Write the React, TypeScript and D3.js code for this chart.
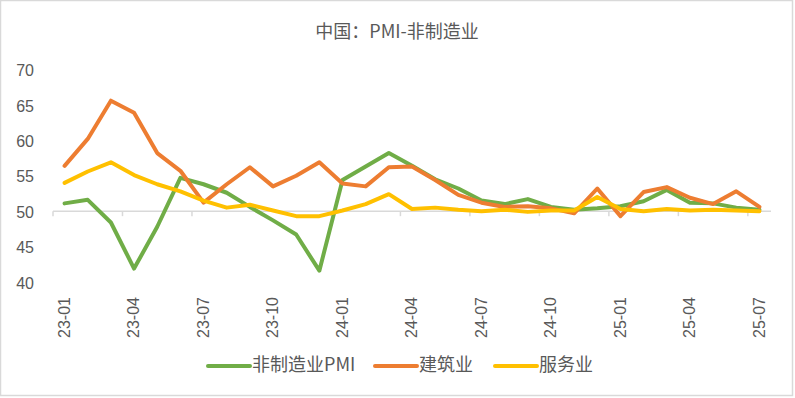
import React from "react";
import * as d3 from "d3";

const months = [
  "23-01","23-02","23-03","23-04","23-05","23-06","23-07","23-08","23-09","23-10","23-11","23-12",
  "24-01","24-02","24-03","24-04","24-05","24-06","24-07","24-08","24-09","24-10","24-11","24-12",
  "25-01","25-02","25-03","25-04","25-05","25-06","25-07",
];
const nonMfgPMI = [
  51.1, 51.6, 48.4, 41.9, 47.8, 54.7, 53.8, 52.6, 50.6, 48.7, 46.7, 41.6,
  54.4, 56.3, 58.2, 56.4, 54.5, 53.2, 51.5, 51.0, 51.7, 50.6, 50.2, 50.4,
  50.7, 51.4, 53.0, 51.2, 51.1, 50.5, 50.2,
];
const construction = [
  56.4, 60.2, 65.6, 63.9, 58.2, 55.7, 51.2, 53.8, 56.2, 53.5, 55.0, 56.9,
  53.9, 53.5, 56.2, 56.3, 54.4, 52.3, 51.2, 50.6, 50.7, 50.4, 49.7, 53.2,
  49.3, 52.7, 53.4, 51.9, 51.0, 52.8, 50.6,
];
const services = [
  54.0, 55.6, 56.9, 55.1, 53.8, 52.8, 51.5, 50.5, 50.9, 50.1, 49.3, 49.3,
  50.1, 51.0, 52.4, 50.3, 50.5, 50.2, 50.0, 50.2, 49.9, 50.1, 50.1, 52.0,
  50.3, 50.0, 50.3, 50.1, 50.2, 50.1, 50.0,
];
const yTicks = [40, 45, 50, 55, 60, 65, 70];
const seriesNames = ["非制造业PMI", "建筑业", "服务业"];
const colors = ["#70ad47", "#ed7d31", "#ffc000"];
const title = "中国：PMI-非制造业";

const W = 795, H = 398;
const latin = "'Liberation Sans', Arial, sans-serif";
const cjk = "'Noto Sans CJK SC', 'Liberation Sans', sans-serif";
const textColor = "#595959";

export default function App() {
  const x = d3.scaleBand<string>().domain(months).range([53, 771]).padding(0);
  const y = d3.scaleLinear().domain([40, 70]).range([282, 69.5]);
  const cx = (i: number) => (x(months[i]) as number) + x.bandwidth() / 2;
  const line = d3
    .line<number>()
    .x((_, i) => cx(i))
    .y((d) => y(d));
  const allSeries = [nonMfgPMI, construction, services];
  const axisY = y(50);
  const tickIdx = months.map((_, i) => i).filter((i) => i % 3 === 0);
  const boundaries = d3.range(0, months.length + 1, 3).map((i) => 53 + i * x.bandwidth());

  const legendX = [208, 375, 495];

  return (
    <div style={{ position: "fixed", left: 0, top: 0 }}>
      <svg width={W} height={H} style={{ display: "block", background: "#fff" }}>
        <rect x={0.5} y={0.5} width={792} height={395} fill="#fff" stroke="#d9d9d9" strokeWidth={1.5} />
        <text x={397} y={38} textAnchor="middle" fontFamily={cjk} fontSize={18} fill={textColor}>
          {title}
        </text>
        {yTicks.map((t) => (
          <text key={t} x={34} y={y(t) + 2.5} textAnchor="end" dominantBaseline="middle" fontFamily={latin} fontSize={16} fill={textColor}>
            {t}
          </text>
        ))}
        <line x1={53} x2={771} y1={axisY} y2={axisY} stroke="#d9d9d9" strokeWidth={1.5} />
        {boundaries.map((bx, i) => (
          <line key={i} x1={bx} x2={bx} y1={axisY} y2={axisY + 5} stroke="#d9d9d9" strokeWidth={1.5} />
        ))}
        {tickIdx.map((i) => (
          <text
            key={i}
            transform={`translate(${cx(i) + 1},297) rotate(-90)`}
            textAnchor="end"
            dominantBaseline="middle"
            fontFamily={latin}
            fontSize={16}
            fill={textColor}
          >
            {months[i]}
          </text>
        ))}
        {allSeries.map((s, k) => (
          <path key={k} d={line(s) || ""} fill="none" stroke={colors[k]} strokeWidth={4} strokeLinejoin="round" strokeLinecap="round" />
        ))}
        {seriesNames.map((n, k) => (
          <g key={n}>
            <line x1={legendX[k]} x2={legendX[k] + 42} y1={366} y2={366} stroke={colors[k]} strokeWidth={4} strokeLinecap="round" />
            <text x={legendX[k] + 44} y={366} dominantBaseline="middle" fontFamily={cjk} fontSize={18} fill={textColor}>
              {n}
            </text>
          </g>
        ))}
      </svg>
    </div>
  );
}
